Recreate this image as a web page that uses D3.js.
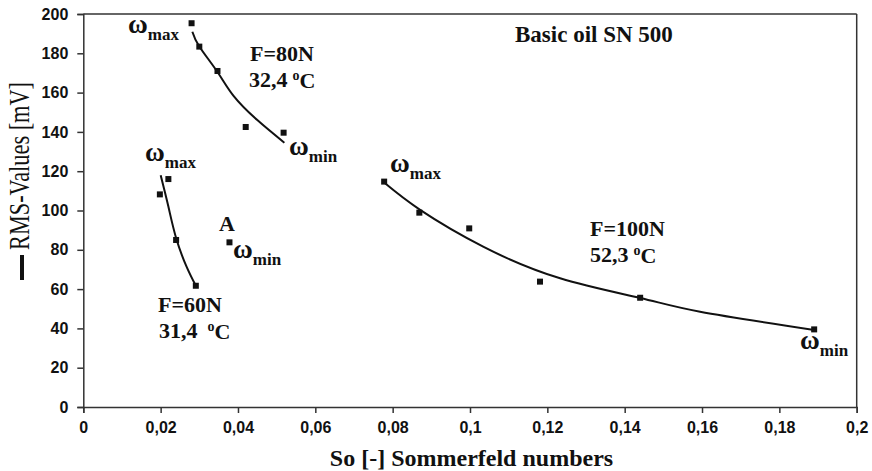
<!DOCTYPE html>
<html>
<head>
<meta charset="utf-8">
<script src="https://cdn.jsdelivr.net/npm/d3@7"></script>
<style>
html,body{margin:0;padding:0;background:#fff;}
svg{display:block;}
</style>
</head>
<body>
<svg id="chart" width="872" height="471"></svg>
<script>
// ---- data ----
const xTicks = [0, 0.02, 0.04, 0.06, 0.08, 0.1, 0.12, 0.14, 0.16, 0.18, 0.2];
const xTickLabels = ["0", "0,02", "0,04", "0,06", "0,08", "0,1", "0,12", "0,14", "0,16", "0,18", "0,2"];
const yTicks = [0, 20, 40, 60, 80, 100, 120, 140, 160, 180, 200];
const yTickLabels = ["0", "20", "40", "60", "80", "100", "120", "140", "160", "180", "200"];

// F = 80 N
const f80So  = [0.028, 0.030, 0.0347, 0.042, 0.0518];
const f80Rms = [195.3, 183.4, 171.0, 142.5, 139.6];
const f80FitSo  = [0.0282, 0.030, 0.0347, 0.0388, 0.045, 0.052];
const f80FitRms = [191.0, 183.5, 170.5, 158.5, 146.0, 134.5];

// F = 60 N
const f60So  = [0.0198, 0.022, 0.024, 0.0291];
const f60Rms = [108.2, 116.0, 85.0, 61.7];
const f60FitSo  = [0.0200, 0.022, 0.024, 0.0267, 0.0291];
const f60FitRms = [118.0, 102.0, 86.0, 71.4, 61.7];

// point A
const aSo  = [0.0378];
const aRms = [83.8];

// F = 100 N
const f100So  = [0.0778, 0.0869, 0.0998, 0.1181, 0.144, 0.189];
const f100Rms = [114.7, 98.9, 90.9, 63.8, 55.6, 39.5];
const f100FitSo  = [0.0778, 0.0871, 0.1034, 0.1233, 0.144, 0.1595, 0.189];
const f100FitRms = [114.2, 100.3, 81.6, 65.5, 55.5, 48.5, 39.2];

// ---- layout ----
const svg = d3.select("#chart");
const pLeft = 83.3, pRight = 856.7, pTop = 14, pBottom = 407;
const x = d3.scaleLinear().domain([0, 0.2]).range([pLeft, pRight]);
const y = d3.scaleLinear().domain([0, 200]).range([pBottom, pTop]);

const serif = "'Liberation Serif','Times New Roman',serif";
const sans = "'Liberation Sans',Arial,sans-serif";
const axisColor = "#333";

// frame (top & right)
svg.append("line").attr("x1", pLeft).attr("x2", pRight).attr("y1", pTop).attr("y2", pTop)
  .attr("stroke", axisColor).attr("stroke-width", 1.5);
svg.append("line").attr("x1", pRight).attr("x2", pRight).attr("y1", pTop).attr("y2", pBottom)
  .attr("stroke", axisColor).attr("stroke-width", 1.5);

// axes
const xAxis = d3.axisBottom(x).tickValues(xTicks).tickSize(6).tickPadding(9)
  .tickFormat((d, i) => xTickLabels[i]);
const yAxis = d3.axisLeft(y).tickValues(yTicks).tickSize(6).tickPadding(9)
  .tickFormat((d, i) => yTickLabels[i]);

const gx = svg.append("g").attr("transform", `translate(0,${pBottom})`).call(xAxis);
const gy = svg.append("g").attr("transform", `translate(${pLeft},0)`).call(yAxis);
[gx, gy].forEach(g => {
  g.select(".domain").attr("stroke", axisColor).attr("stroke-width", 1.5);
  g.selectAll(".tick line").attr("stroke", axisColor).attr("stroke-width", 1.5);
  g.selectAll(".tick text").attr("fill", "#111").style("font-family", sans)
    .style("font-weight", "bold").style("font-size", "16px");
});

// axis titles
svg.append("text").attr("x", 471.5).attr("y", 466).attr("text-anchor", "middle")
  .style("font-family", serif).style("font-weight", "bold").style("font-size", "24px")
  .attr("fill", "#111").text("So [-] Sommerfeld numbers");

const yTitle = svg.append("g").attr("transform", "translate(29,166) rotate(-90)");
yTitle.append("text").attr("x", 0).attr("y", 0).attr("text-anchor", "middle")
  .style("font-family", serif).style("font-size", "29px").attr("fill", "#111")
  .attr("textLength", 168).attr("lengthAdjust", "spacingAndGlyphs")
  .text("RMS-Values [mV]");
svg.append("line").attr("x1", 22).attr("x2", 22).attr("y1", 255).attr("y2", 280)
  .attr("stroke", "#111").attr("stroke-width", 4);

// trend lines
const line = d3.line().x(d => x(d[0])).y(d => y(d[1])).curve(d3.curveNatural);
const fits = [[f80FitSo, f80FitRms], [f60FitSo, f60FitRms], [f100FitSo, f100FitRms]];
fits.forEach(([xs, ys]) => {
  svg.append("path").datum(xs.map((v, i) => [v, ys[i]]))
    .attr("d", line).attr("fill", "none").attr("stroke", "#111").attr("stroke-width", 2);
});

// markers
const pts = [[f80So, f80Rms], [f60So, f60Rms], [aSo, aRms], [f100So, f100Rms]];
const ms = 6;
pts.forEach(([xs, ys]) => {
  svg.append("g").selectAll("rect").data(xs.map((v, i) => [v, ys[i]])).join("rect")
    .attr("x", d => x(d[0]) - ms / 2).attr("y", d => y(d[1]) - ms / 2)
    .attr("width", ms).attr("height", ms).attr("fill", "#111");
});

// annotations
function omega(px, py, sub) {
  const t = svg.append("text").attr("x", px).attr("y", py)
    .style("font-family", serif).style("font-weight", "bold").attr("fill", "#111");
  t.append("tspan").style("font-size", "27px").text("ω");
  t.append("tspan").attr("dy", 7).style("font-size", "17px").text(sub);
}
omega(128, 33, "max");
omega(289, 155, "min");
omega(145, 161, "max");
omega(233, 258, "min");
omega(390, 172, "max");
omega(800, 349, "min");

function label(px, py, txt, size) {
  svg.append("text").attr("x", px).attr("y", py)
    .style("font-family", serif).style("font-weight", "bold").style("font-size", size + "px")
    .attr("fill", "#111").text(txt);
}
function temp(px, py, num, gap) {
  const t = svg.append("text").attr("x", px).attr("y", py)
    .style("font-family", serif).style("font-weight", "bold").style("font-size", "22px")
    .attr("fill", "#111");
  t.append("tspan").text(num);
  t.append("tspan").attr("dx", gap).attr("dy", -7).style("font-size", "14px").text("o");
  t.append("tspan").attr("dy", 8).text("C");
}
label(515, 42, "Basic oil SN 500", 23);
label(250, 61, "F=80N", 22);
temp(249, 87, "32,4", 5);
label(158, 312, "F=60N", 22);
temp(159, 338, "31,4", 10);
label(219, 231, "A", 22);
label(590, 236, "F=100N", 22);
temp(590, 262, "52,3", 5);
</script>
</body>
</html>
